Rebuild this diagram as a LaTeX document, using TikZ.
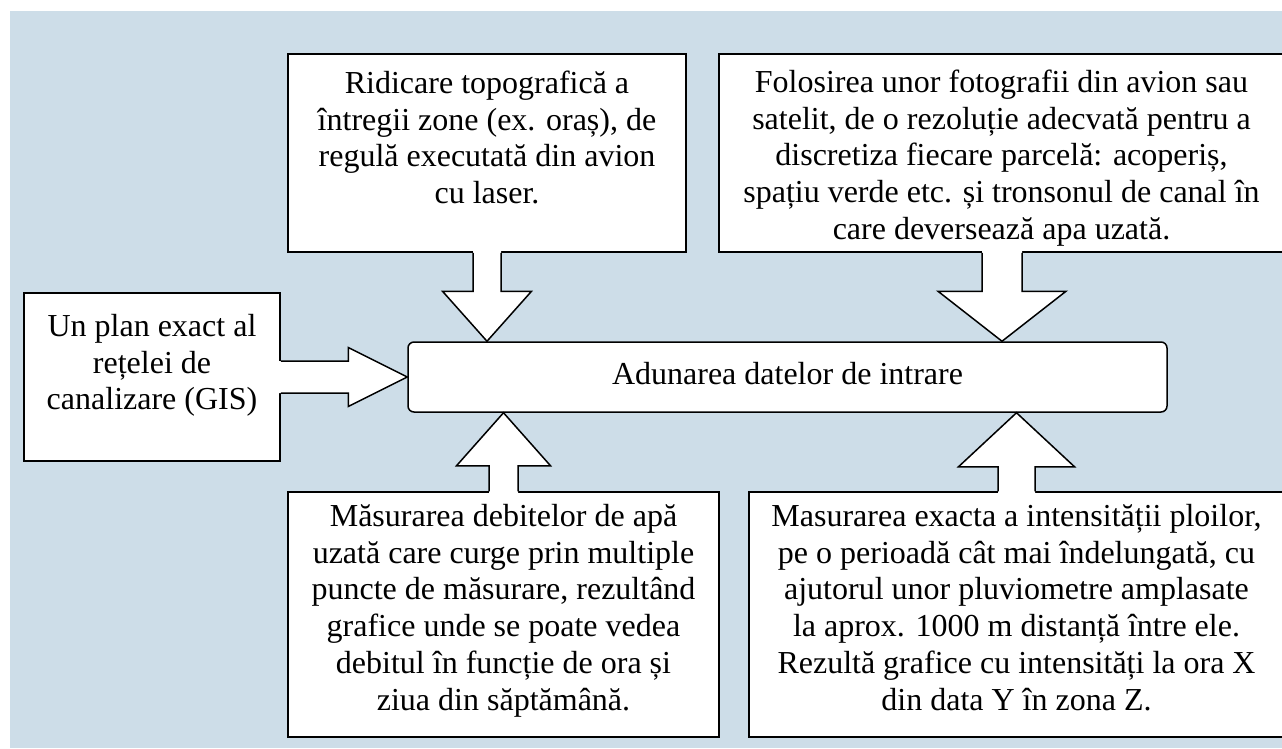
\documentclass[tikz,border=0pt]{standalone}
\usepackage{fontspec}
\setmainfont{Liberation Serif}
\usetikzlibrary{calc}
\definecolor{bgblue}{RGB}{205,221,232}

\tikzset{
  box/.style={draw=black, line width=1.5pt, fill=white, inner sep=0pt},
  txt/.style={align=center, inner sep=0pt, anchor=north, font=\fontsize{32}{36.8}\selectfont},
  fatline/.style={draw=black, line width=1.5pt, line join=miter},
}
\newcommand{\firststrut}{\rule{0pt}{28pt}}
% block arrow: start, tip, shaft half width, head half width, head length
\newcommand{\fatarrow}[5]{
  \path (#1) coordinate (fa-s) (#2) coordinate (fa-t);
  \path ($(fa-t)!#5!(fa-s)$) coordinate (fa-b)
        ($(fa-s)!-2pt!(fa-t)$) coordinate (fa-i);
  \path ($(fa-s)!#3!90:(fa-t)$) coordinate (fa-s1)
        ($(fa-s)!#3!-90:(fa-t)$) coordinate (fa-s2)
        ($(fa-i)!#3!90:(fa-t)$) coordinate (fa-i1)
        ($(fa-i)!#3!-90:(fa-t)$) coordinate (fa-i2)
        ($(fa-b)!#3!-90:(fa-s)$) coordinate (fa-b1)
        ($(fa-b)!#3!90:(fa-s)$) coordinate (fa-b2)
        ($(fa-b)!#4!-90:(fa-s)$) coordinate (fa-h1)
        ($(fa-b)!#4!90:(fa-s)$) coordinate (fa-h2);
  \fill[white] (fa-i1) -- (fa-b1) -- (fa-h1) -- (fa-t) -- (fa-h2) -- (fa-b2) -- (fa-i2) -- cycle;
  \draw[fatline] (fa-s1) -- (fa-b1) -- (fa-h1) -- (fa-t) -- (fa-h2) -- (fa-b2) -- (fa-s2);
}

\begin{document}
\begin{tikzpicture}[x=1pt,y=-1pt]
  \useasboundingbox (0,0) rectangle (1282,748);
  \fill[bgblue] (10,11) rectangle (1282,748);

  % boxes
  \node[box, minimum width=398pt, minimum height=198pt] (top1) at (487,153) {};
  \node[box, minimum width=566pt, minimum height=198pt] (top2) at (1002,153) {};
  \node[box, minimum width=256pt, minimum height=168pt] (left) at (152,377) {};
  \node[box, minimum width=431pt, minimum height=245pt] (bot1) at (503.5,614.5) {};
  \node[box, minimum width=535pt, minimum height=245pt] (bot2) at (1016.5,614.5) {};
  \node[box, rounded corners=6pt, minimum width=759pt, minimum height=70pt,
        text height=22pt, text depth=8pt, font=\fontsize{32}{36.8}\selectfont]
        (hub) at (787.5,377) {Adunarea datelor de intrare};

  % arrows into the hub
  \foreach \a/\b/\s/\h/\l in {top1.south/top1.south |- hub.north/14pt/44.5pt/50pt,
      top2.south/top2.south |- hub.north/20pt/64pt/50pt,
      left.east/hub.west/16pt/29.5pt/59pt,
      bot1.north/bot1.north |- hub.south/14.5pt/47pt/53pt,
      bot2.north/bot2.north |- hub.south/18.5pt/58pt/54pt}{
    \fatarrow{\a}{\b}{\s}{\h}{\l}
  }

  % texts
  \node[txt] (top1t) at (487,65) {\firststrut Ridicare topografică a\\ întregii zone (ex. oraș), de\\
    regulă executată din avion\\ cu laser.};
  \node[txt] (top2t) at (1001.5,64) {\firststrut Folosirea unor fotografii din avion sau\\
    satelit, de o rezoluție adecvată pentru a\\ discretiza fiecare parcelă: acoperiș,\\
    spațiu verde etc. și tronsonul de canal în\\ care deversează apa uzată.};
  \node[txt] (leftt) at (152,308) {\firststrut Un plan exact al\\ rețelei de\\ canalizare (GIS)};
  \node[txt] (bot1t) at (503.5,498) {\firststrut Măsurarea debitelor de apă\\
    uzată care curge prin multiple\\ puncte de măsurare, rezultând\\ grafice unde se poate vedea\\
    debitul în funcție de ora și\\ ziua din săptămână.};
  \node[txt] (bot2t) at (1016.5,498) {\firststrut Masurarea exacta a intensității ploilor,\\
    pe o perioadă cât mai îndelungată, cu\\ ajutorul unor pluviometre amplasate\\
    la aprox. 1000 m distanță între ele.\\ Rezultă grafice cu intensități la ora X\\
    din data Y în zona Z.};
\end{tikzpicture}
\end{document}
